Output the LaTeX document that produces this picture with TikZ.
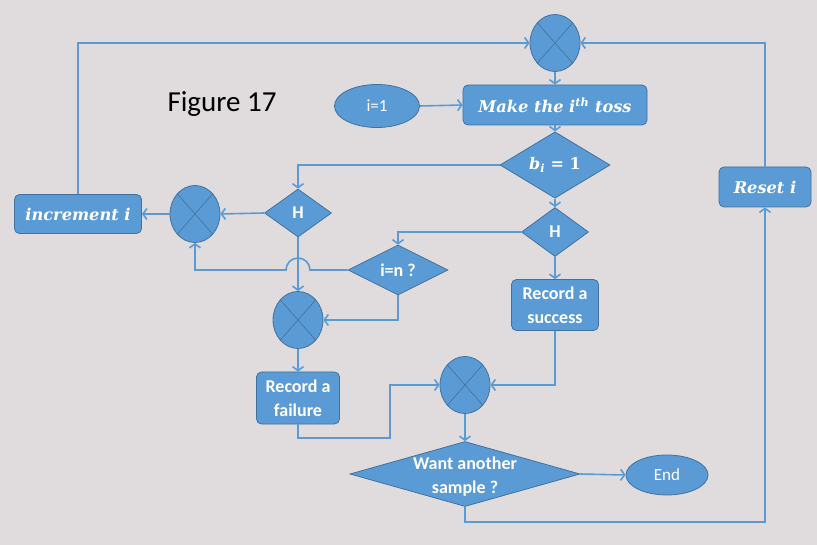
\documentclass[tikz,border=0pt]{standalone}
\usepackage{fontspec}
\setsansfont{Carlito}
\newfontfamily\formulafont{DejaVu Serif}
\usetikzlibrary{shapes.geometric,arrows.meta}
\definecolor{pageback}{RGB}{224,220,222}
\definecolor{boxblue}{RGB}{91,155,213}
\definecolor{boxedge}{RGB}{65,113,156}
\tikzset{
  flowline/.style={draw=boxblue, line width=1.6pt, -{Straight Barb[length=4pt,width=11pt]}},
  blueshape/.style={fill=boxblue, draw=boxedge, line width=0.8pt, text=white, inner sep=0pt},
  taskbox/.style={blueshape, rectangle, rounded corners=5pt, align=center,
                  font=\sffamily\bfseries\fontsize{18}{24}\selectfont},
  mathbox/.style={taskbox, font=\formulafont\bfseries\itshape\fontsize{16.2}{20}\selectfont},
  choice/.style={blueshape, diamond, font=\sffamily\bfseries\fontsize{18}{22}\selectfont},
  mathchoice/.style={choice, font=\formulafont\bfseries\fontsize{16}{20}\selectfont},
  oval/.style={blueshape, ellipse, font=\sffamily\fontsize{17}{20}\selectfont},
  sumjunc/.style={blueshape, ellipse, minimum width=50pt, minimum height=57pt,
                  path picture={\draw[boxedge, line width=0.6pt]
                    (path picture bounding box.north west) -- (path picture bounding box.south east)
                    (path picture bounding box.north east) -- (path picture bounding box.south west);}},
}
\begin{document}
\begin{tikzpicture}[x=1pt, y=-1pt]
            % Frame to ensure alignment:
            \fill[pageback] (0,0) rectangle (817,545);
            \useasboundingbox (0,0) rectangle (817,545);
            \node[font=\sffamily\fontsize{29}{34}\selectfont] (fig) at (222,104) {Figure 17};
            % top row
            \node[sumjunc]                                           (sjtop)   at (555, 43) {};
            \node[oval,       minimum width=85pt,  minimum height=43pt] (init)    at (377,106) {i=1};
            \node[mathbox,    minimum width=184pt, minimum height=40pt] (toss)    at (555,105) {Make the i\textsuperscript{th} toss};
            \node[mathchoice, minimum width=110pt, minimum height=46pt] (bione)   at (555,165) {{\itshape b\textsubscript{i}} = 1};
            \node[choice,     minimum width=67pt,  minimum height=49pt] (hright)  at (555,232) {H};
            \node[taskbox,    minimum width=87pt,  minimum height=51pt] (success) at (555,305) {Record a\\success};
            \node[mathbox,    minimum width=92pt,  minimum height=40pt] (reset)   at (765,187) {Reset i};
            % left branch
            \node[mathbox,    minimum width=127pt, minimum height=39pt] (inc)     at ( 78,214) {increment i};
            \node[sumjunc]                                           (sjleft)  at (195,214) {};
            \node[choice,     minimum width=67pt,  minimum height=48pt] (hleft)   at (298,213) {H};
            \node[choice,     minimum width=100pt, minimum height=50pt] (ineq)    at (398,270) {i=n ?};
            \node[sumjunc]                                           (sjmid)   at (298,320) {};
            \node[taskbox,    minimum width=83pt,  minimum height=52pt] (failure) at (298,398) {Record a\\failure};
            % bottom
            \node[sumjunc]                                           (sjbot)   at (465,385) {};
            \node[choice,     minimum width=230pt, minimum height=65pt,
                  label={[text=white, align=center, yshift=-3pt, font=\sffamily\bfseries\fontsize{18}{24}\selectfont]center:Want another\\sample ?}]
                                                                      (want)    at (465,474) {};
            \node[oval,       minimum width=82pt,  minimum height=40pt] (fin)     at (667,475) {End};
            \coordinate (hop)  at (310,270);
            \coordinate (bend) at (390,438);
            % connectors
            \draw[flowline] (sjtop.south)   -- (toss.north);
            \draw[flowline] (init.east)     -- (toss.west);
            \draw[flowline] (toss.south)    -- (bione.north);
            \draw[flowline] (bione.south)   -- (hright.north);
            \draw[flowline] (hright.south)  -- (success.north);
            \draw[flowline] (bione.west)    -| (hleft.north);
            \draw[flowline] (hright.west)   -| (ineq.north);
            \draw[flowline] (hleft.west)    -- (sjleft.east);
            \draw[flowline] (sjleft.west)   -- (inc.east);
            \draw[flowline] (inc.north)     |- (sjtop.west);
            \draw[flowline] (hleft.south)   -- (sjmid.north);
            \draw[flowline] (ineq.west) -- (hop) arc[start angle=0, end angle=-180, radius=12] -| (sjleft.south);
            \draw[flowline] (ineq.south)    |- (sjmid.east);
            \draw[flowline] (sjmid.south)   -- (failure.north);
            \draw[flowline] (failure.south) |- (bend) |- (sjbot.west);
            \draw[flowline] (success.south) |- (sjbot.east);
            \draw[flowline] (sjbot.south)   -- (want.north);
            \draw[flowline] (want.east)     -- (fin.west);
            \draw[flowline] (want.south)    -- ++(0,15) -| (reset.south);
            \draw[flowline] (reset.north)   |- (sjtop.east);
\end{tikzpicture}
\end{document}
